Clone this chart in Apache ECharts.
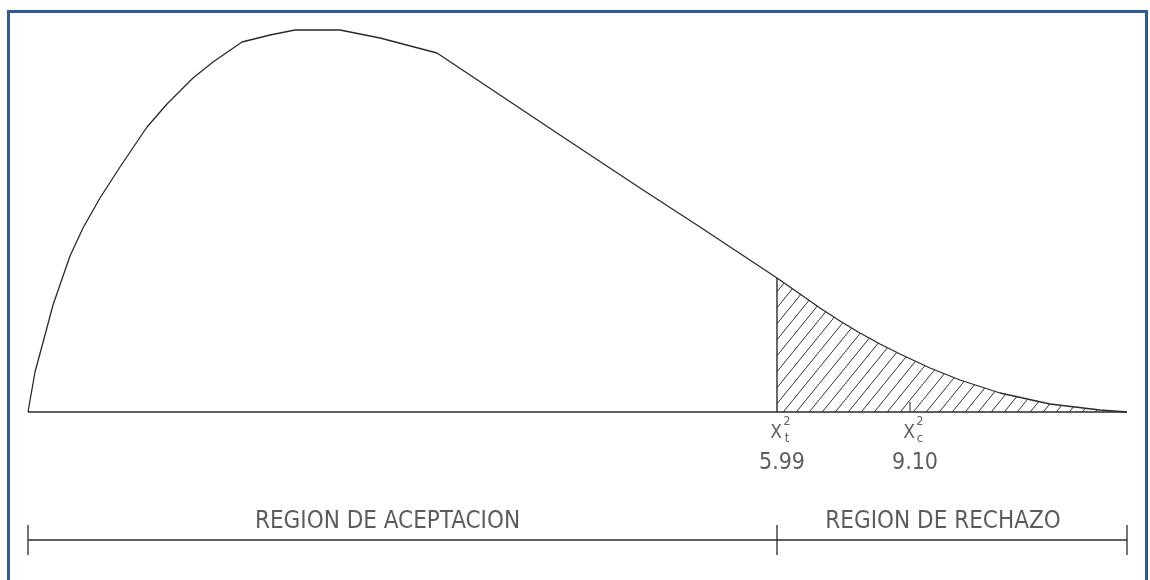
<!DOCTYPE html>
<html>
<head>
<meta charset="utf-8">
<script src="https://cdn.jsdelivr.net/npm/echarts@6/dist/echarts.min.js"></script>
<style>
  html, body { margin: 0; padding: 0; background: #ffffff; }
  #wrap { position: relative; width: 1150px; height: 580px; overflow: hidden; }
  #frame { position: absolute; left: 7px; top: 10px; width: 1135px; height: 600px;
           border-top: 3px solid #2f5a98; border-left: 3px solid #2f5a98; border-right: 3px solid #2f5a98; }
  #chart { position: absolute; left: 0; top: 0; width: 1150px; height: 580px; }
</style>
</head>
<body>
<div id="wrap">
  <div id="frame"></div>
  <div id="chart"></div>
</div>
<script>
// ---- data (schematic units) ----
const curveX = [0, 7, 17, 25, 42, 55, 72, 92, 119, 139, 165, 185, 214, 242, 267, 312, 352, 409, 457, 532, 612, 672, 749, 772, 792, 812, 832, 852, 872, 902, 932, 972, 1022, 1072, 1099];
const curveY = [0, 40, 77, 107, 156, 184, 214, 245, 285, 308, 334, 350, 370, 377, 382, 382, 374, 359, 327, 277, 224, 185, 134, 118, 104, 91, 79, 68, 58, 44, 32, 19, 8, 2, 0];
const criticalX = 749;          // tabulated chi-square position
const calculatedX = 882;        // calculated chi-square position
const criticalValue = '5.99';
const calculatedValue = '9.10';
const criticalSub = 't';
const calculatedSub = 'c';
const regionNames = ['REGION DE ACEPTACION', 'REGION DE RECHAZO'];
const dimLineY = -128;
const tickLen = 15;
const calcTickH = 10;

// ---- build ----
const curve = curveX.map((x, i) => [x, curveY[i]]);
const tail = curve.filter(p => p[0] >= criticalX);
const critTop = curveY[curveX.indexOf(criticalX)];
const xEnd = curveX[curveX.length - 1];

const ink = '#2a2a2a';
const font = "'Liberation Sans Narrow', 'DejaVu Sans Condensed', 'Liberation Sans', sans-serif";

// hatch pattern
const pc = document.createElement('canvas');
pc.width = 13; pc.height = 16;
const g = pc.getContext('2d');
g.strokeStyle = '#333';
g.lineWidth = 1;
g.beginPath();
g.moveTo(-1, 17.2); g.lineTo(14, -1.2);
g.stroke();

function seg(data, w) {
  return { type: 'line', data: data, symbol: 'none', silent: true,
           lineStyle: { color: ink, width: w || 1.2 }, animation: false };
}

const labelItems = [];
[[criticalX, criticalSub, criticalValue], [calculatedX, calculatedSub, calculatedValue]].forEach(m => {
  labelItems.push({ value: [m[0], -21], label: { formatter: 'X', fontSize: 19, offset: [-1, 0] } });
  labelItems.push({ value: [m[0], -21], label: { formatter: '2', fontSize: 12, offset: [10, -11] } });
  labelItems.push({ value: [m[0], -21], label: { formatter: m[1], fontSize: 13, offset: [10, 6] } });
  labelItems.push({ value: [m[0], -51], label: { formatter: m[2], fontSize: 23, offset: [5, 0] } });
});
labelItems.push({ value: [(0 + criticalX) / 2, -110], label: { formatter: regionNames[0], fontSize: 24, offset: [-15, 0] } });
labelItems.push({ value: [(criticalX + xEnd) / 2, -110], label: { formatter: regionNames[1], fontSize: 24, offset: [-9, 0] } });

const chart = echarts.init(document.getElementById('chart'), null, { renderer: 'canvas' });
chart.setOption({
  animation: false,
  backgroundColor: 'transparent',
  grid: { left: 28, right: 23, top: 12, bottom: 18 },
  xAxis: { type: 'value', min: 0, max: xEnd, show: false },
  yAxis: { type: 'value', min: -150, max: 400, show: false },
  series: [
    // hatched rejection area
    { type: 'line', data: tail, symbol: 'none', smooth: false, silent: true,
      lineStyle: { width: 0 }, areaStyle: { color: { image: pc, repeat: 'repeat' }, opacity: 1 } },
    // density curve
    seg(curve, 1.3),
    // baseline
    seg([[0, 0], [xEnd, 0]], 1.4),
    // critical vertical
    seg([[criticalX, 0], [criticalX, critTop]], 1.4),
    // calculated tick
    seg([[calculatedX, 0], [calculatedX, calcTickH]], 1),
    // dimension line and ticks
    seg([[0, dimLineY], [xEnd, dimLineY]], 1.3),
    seg([[0, dimLineY + tickLen], [0, dimLineY - tickLen]], 1.3),
    seg([[criticalX, dimLineY + tickLen], [criticalX, dimLineY - tickLen]], 1.3),
    seg([[xEnd, dimLineY + tickLen], [xEnd, dimLineY - tickLen]], 1.3),
    // labels
    { type: 'scatter', symbolSize: 0, silent: true, data: labelItems,
      label: { show: true, position: 'inside', align: 'center', verticalAlign: 'middle',
               color: '#333', fontFamily: font, fontWeight: 'normal' } }
  ]
});
</script>
</body>
</html>
